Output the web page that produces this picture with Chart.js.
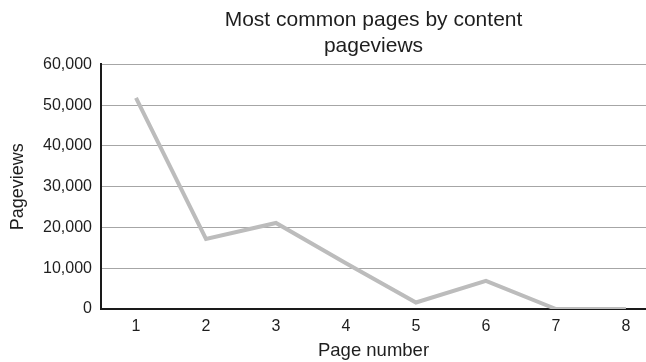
<!DOCTYPE html>
<html>
<head>
<meta charset="utf-8">
<script src="https://cdn.jsdelivr.net/npm/chart.js@4"></script>
<style>
  html, body { margin: 0; padding: 0; background: #fff; overflow: hidden; }
  #wrap { width: 646px; height: 362px; }
</style>
</head>
<body>
<div id="wrap"><canvas id="chart" width="646" height="362"></canvas></div>
<script>
// Page numbers along the x axis
const pages = [1, 2, 3, 4, 5, 6, 7, 8];
// Content pageviews per page
const pageviews = [51800, 17200, 21100, 11200, 1600, 6900, 0, 0];
// Value axis ticks
const yTicks = [0, 10000, 20000, 30000, 40000, 50000, 60000];

const chartTitle = ['Most common pages by content', 'pageviews'];
const xTitle = 'Page number';
const yTitle = 'Pageviews';

const FONT = "'Liberation Sans', Arial, Helvetica, sans-serif";
const TEXT = '#1e1e1e';

function withThousands(v) {
  return String(v).replace(/\B(?=(\d{3})+(?!\d))/g, ',');
}

new Chart(document.getElementById('chart'), {
  type: 'line',
  data: {
    datasets: [{
      data: pages.map((p, i) => ({ x: p, y: pageviews[i] })),
      borderColor: '#bcbcbc',
      borderWidth: 4,
      pointRadius: 0,
      pointHoverRadius: 0,
      tension: 0,
      fill: false
    }]
  },
  options: {
    responsive: false,
    devicePixelRatio: 1,
    animation: false,
    layout: { padding: 0 },
    plugins: {
      legend: { display: false },
      tooltip: { enabled: false },
      title: {
        display: true,
        text: chartTitle,
        fullSize: false,
        color: TEXT,
        font: { family: FONT, size: 21, weight: 'normal', lineHeight: 1.2 },
        padding: { top: 8, bottom: 6 }
      }
    },
    scales: {
      x: {
        type: 'linear',
        min: 0.5,
        max: 8.287,
        afterBuildTicks: s => { s.ticks = pages.map(v => ({ value: v })); },
        afterFit: s => { s.height = 53; },
        grid: { display: false, drawTicks: false },
        border: { display: true, color: '#1a1a1a', width: 2 },
        ticks: {
          color: TEXT,
          padding: 8,
          font: { family: FONT, size: 16 },
          callback: v => String(v)
        },
        title: {
          display: true,
          text: xTitle,
          color: TEXT,
          font: { family: FONT, size: 18.5, lineHeight: 1.2 },
          padding: { top: 0, bottom: 0 }
        }
      },
      y: {
        min: 0,
        max: 60000,
        afterBuildTicks: s => { s.ticks = yTicks.map(v => ({ value: v })); },
        afterFit: s => { s.width = 101; },
        grid: { color: '#a6a6a6', lineWidth: 1, drawTicks: false },
        border: { display: true, color: '#1a1a1a', width: 2 },
        ticks: {
          color: TEXT,
          padding: 9,
          font: { family: FONT, size: 16 },
          callback: v => withThousands(v)
        },
        title: {
          display: true,
          text: yTitle,
          color: TEXT,
          font: { family: FONT, size: 18, lineHeight: 1.2 },
          padding: { top: 7, bottom: 0 }
        }
      }
    }
  }
});
</script>
</body>
</html>
